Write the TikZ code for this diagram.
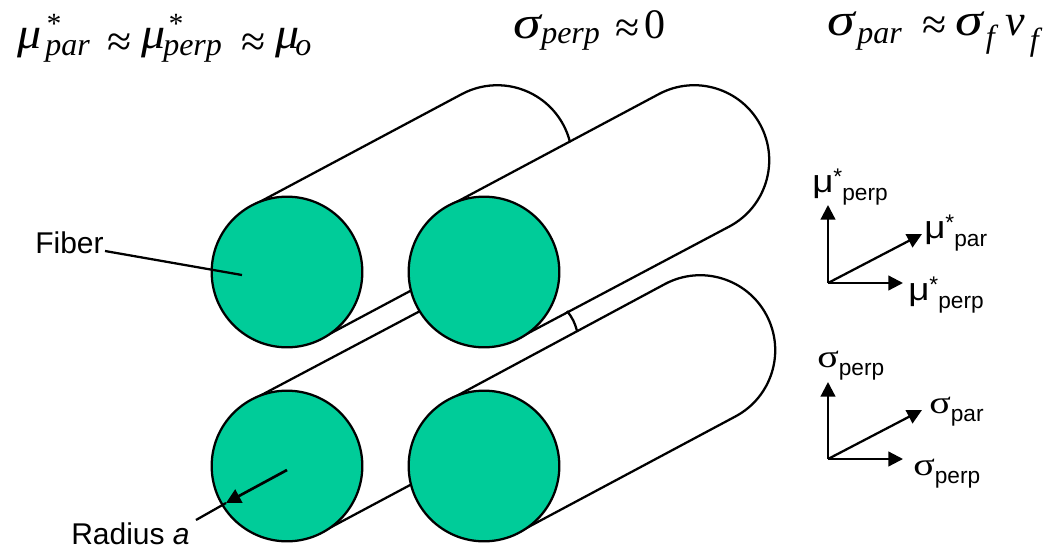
\documentclass[tikz,border=0pt]{standalone}
\usepackage{graphicx}
\usepackage{fontspec}
\setmainfont{Liberation Sans}
\newfontfamily\timesfont{Liberation Serif}
\usetikzlibrary{arrows.meta, positioning, calc}
\definecolor{myGreen}{HTML}{00CC99}
% pieces of the printed formulas: width of the cell, drop below the baseline, content
\newcommand{\eqcell}[3]{\makebox[#1][l]{\raisebox{-#2}{#3}}}
\newcommand{\eqsub}[1]{{\fontsize{24}{24}\selectfont\itshape #1}}
\newcommand{\eqstar}{\rlap{\raisebox{16pt}{\fontsize{22}{22}\selectfont *}}}
\newcommand{\eqmu}{\scalebox{1.2}[1.1]{μ}}
\newcommand{\eqsig}{\scalebox{1.4}[1.15]{σ}}
\newcommand{\eqapprox}{\scalebox{1.1}[1.1]{\upshape≈}}
\newcommand{\axsub}[1]{\raisebox{-6pt}{\fontsize{17}{17}\selectfont #1}}
\newcommand{\axstar}{\raisebox{6pt}{\fontsize{17}{17}\selectfont *}}
\newcommand{\axmu}{\scalebox{1.15}[1]{μ}}
\newcommand{\axsig}{\scalebox{1.25}[1]{\timesfont σ}}
\begin{document}
\begin{tikzpicture}[
x=0.75pt, y=-0.75pt,
fiber/.style={circle, draw=black, fill=myGreen, line width=1.7pt, minimum size=113pt, inner sep=0pt},
wall/.style={line width=1.7pt, black},
arrow/.style={-{Triangle[length=11pt, width=11pt]}, line width=1.7pt, black},
label/.style={anchor=base west, inner sep=0pt, font=\fontsize{22.5}{24}\selectfont},
formula/.style={anchor=base west, inner sep=0pt, font=\timesfont\itshape\fontsize{30}{32}\selectfont},
axlabel/.style={anchor=base west, inner sep=0pt, font=\fontsize{24}{26}\selectfont}
]
\useasboundingbox (0,0) rectangle (1050,547);

% cylinder bodies, back row first
\draw[wall] (252,206) -- (462,94) arc[start angle=118, end angle=13.7, radius=56.25pt];
\draw[wall] (322,338) -- (412,290);
\draw[wall] (449,206) -- (659,94) arc[start angle=118, end angle=-62, radius=56.25pt] -- (519,338);
\draw[wall] (252,400) -- (422,310);
\draw[wall] (322,532) -- (412,484);
\draw[wall] (449,400) -- (665,284) arc[start angle=118, end angle=-62, radius=56.25pt] -- (519,532);
\coordinate (gapA) at (567,311);
\coordinate (gapB) at (577,331);
\draw[wall] (gapA) to[bend left=12] (gapB);

% fibers
\node[fiber] (fiberA) at (287,272) {};
\node[fiber] (fiberB) at (484,272) {};
\node[fiber] (fiberC) at (287,466) {};
\node[fiber] (fiberD) at (484,466) {};

% callouts
\node[label] (fiberLabel) at (35,253) {Fiber};
\node[label] (radiusLabel) at (71,544) {Radius \textit{a}};
\coordinate (fiberEnd) at (242,275);
\coordinate (fiberStart) at (105,251);
\coordinate (radiusStart) at (196,520);
\coordinate (radiusTip) at (226,503);
\coordinate (radiusCenter) at (287,470);
\draw[wall] (fiberStart) -- (fiberEnd);
\draw[wall] (radiusStart) -- (radiusTip);
\draw[arrow, line width=2pt] (radiusCenter) -- (radiusTip);

% formulas along the top
\node[formula] (eqMu) at (17,48) {\eqcell{21pt}{0pt}{\eqmu}\eqcell{46.5pt}{5.25pt}{\eqstar\eqsub{par}}\eqcell{25.5pt}{6pt}{\eqapprox}\eqcell{16.5pt}{0pt}{\eqmu}\eqcell{58.5pt}{5.25pt}{\kern3pt\eqstar\kern-3pt\eqsub{perp}}\eqcell{25.5pt}{6pt}{\eqapprox}\eqcell{15pt}{0pt}{\eqmu}\eqcell{14pt}{5.25pt}{\eqsub{o}}};
\node[formula] (eqPerp) at (513,38) {\eqcell{21pt}{0pt}{\eqsig}\eqcell{55.5pt}{3.75pt}{\eqsub{perp}}\eqcell{21.75pt}{3pt}{\eqapprox}\eqcell{16pt}{0pt}{\fontsize{31.5}{32}\selectfont\upshape 0}};
\node[formula] (eqPar) at (827,35) {\eqcell{22.5pt}{0pt}{\eqsig}\eqcell{48.75pt}{6pt}{\eqsub{par}}\eqcell{24.75pt}{3pt}{\eqapprox}\eqcell{23pt}{0pt}{\eqsig}\eqcell{15pt}{9pt}{\eqsub{f}}\eqcell{15pt}{0pt}{\fontsize{33}{33}\selectfont v}\eqcell{12pt}{11.25pt}{\kern3pt\eqsub{f}}};

% axes for the permeability
\coordinate (muO) at (828,283);
\coordinate (muUp) at (828,205);
\coordinate (muPar) at (922,234);
\coordinate (muRight) at (903,283);
\draw[arrow] (muO) -- (muUp);
\draw[arrow] (muO) -- (muPar);
\draw[arrow] (muO) -- (muRight);
\node[axlabel] (muUpLabel) at (812,192) {\axmu\axstar\axsub{perp}};
\node[axlabel] (muParLabel) at (924,238) {\axmu\axstar\axsub{par}};
\node[axlabel] (muRightLabel) at (908,300) {\axmu\axstar\axsub{perp}};

% axes for the conductivity
\coordinate (sigO) at (828,459);
\coordinate (sigUp) at (828,382);
\coordinate (sigPar) at (922,410);
\coordinate (sigRight) at (903,459);
\draw[arrow] (sigO) -- (sigUp);
\draw[arrow] (sigO) -- (sigPar);
\draw[arrow] (sigO) -- (sigRight);
\node[axlabel] (sigUpLabel) at (817,367) {\axsig\axsub{perp}};
\node[axlabel] (sigParLabel) at (929,413) {\axsig\axsub{par}};
\node[axlabel] (sigRightLabel) at (913,475) {\axsig\axsub{perp}};
\end{tikzpicture}
\end{document}
